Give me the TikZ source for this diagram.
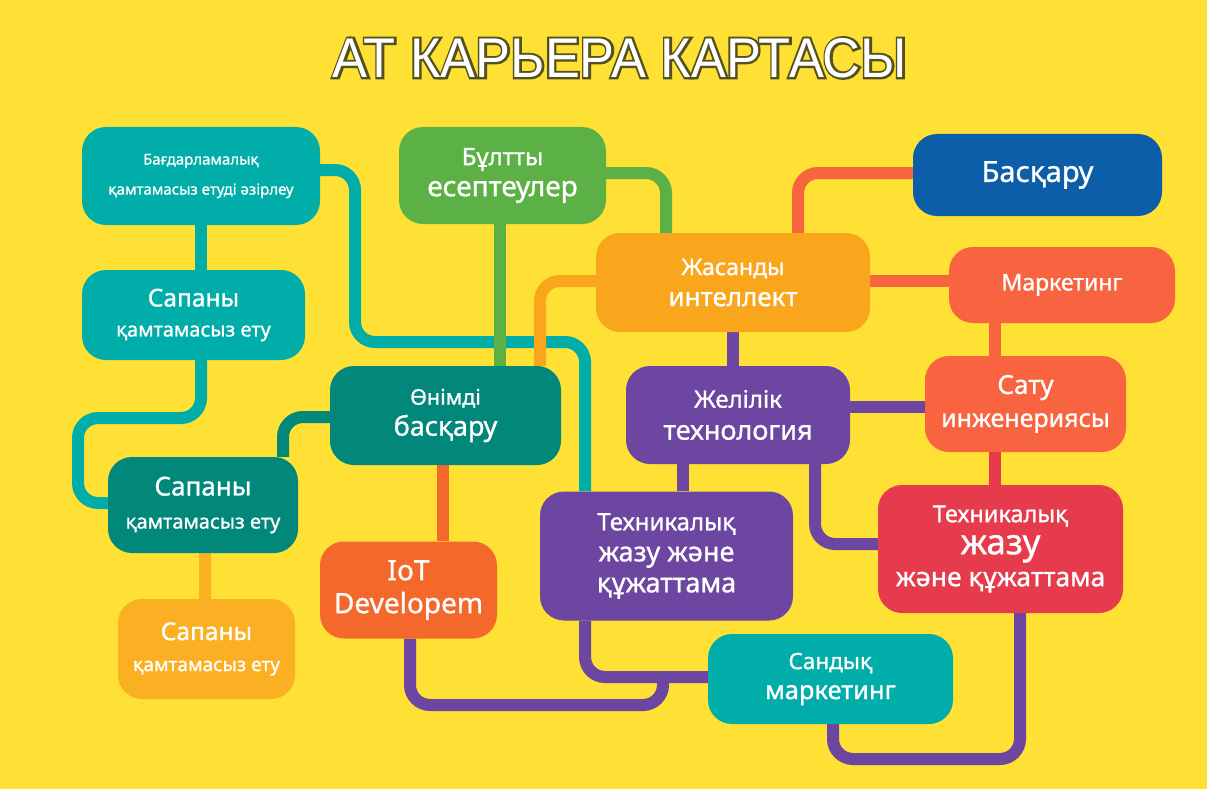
\documentclass[tikz,border=0pt]{standalone}
\usepackage{fontspec}
\setmainfont{Noto Sans}[FakeBold=1.0]
\newfontfamily\titlefont{Liberation Sans}[FakeStretch=0.935]
\newcommand\tsz[1]{\fontsize{#1}{#1}\selectfont}
\definecolor{bg}{HTML}{FEE134}
\definecolor{cteal}{HTML}{00ADA9}
\definecolor{cdteal}{HTML}{02877B}
\definecolor{cgreen}{HTML}{5CB146}
\definecolor{corange}{HTML}{F9A61D}
\definecolor{cyorange}{HTML}{FBB023}
\definecolor{ciot}{HTML}{F4692B}
\definecolor{cblue}{HTML}{0D5EA8}
\definecolor{ccoral}{HTML}{F7643F}
\definecolor{cpurple}{HTML}{6C46A0}
\definecolor{cred}{HTML}{E53B4C}
\definecolor{titleedge}{HTML}{55501F}
\pgfdeclarelayer{background}
\pgfsetlayers{background,main}
\begin{document}
\begin{tikzpicture}[x=1pt,y=-1pt,
  box/.style 2 args={rounded corners=24pt, minimum width=#1pt, minimum height=#2pt,
    inner sep=0pt, text=white, align=center},
  conn/.style={line width=12pt, rounded corners=20pt},
  titletext/.style={inner sep=0pt, font=\titlefont\fontsize{56}{60}\selectfont}]
\begin{pgfonlayer}{background}
\fill[bg] (0,0) rectangle (1207,789);
\end{pgfonlayer}
\useasboundingbox (0,0) rectangle (1207,789);

\node[box={238}{98}, fill=cteal, font=\fontsize{15}{30}\selectfont] (n1) at (201,176)
  {Бағдарламалық\\қамтамасыз етуді әзірлеу};
\node[box={223}{90}, fill=cteal, font=\fontsize{20}{30}\selectfont] (n2) at (193.5,315)
  {{\tsz{24.5}Сапаны}\\{\tsz{20}қамтамасыз ету}};
\node[box={190}{96}, fill=cdteal, font=\fontsize{20}{33}\selectfont] (n3) at (203,505)
  {{\tsz{26}Сапаны}\\{\tsz{20}қамтамасыз ету}};
\node[box={177}{100}, fill=cyorange, font=\fontsize{19}{31}\selectfont] (n4) at (206.5,649)
  {{\tsz{24.5}Сапаны}\\{\tsz{19}қамтамасыз ету}};
\node[box={207}{97}, fill=cgreen, font=\fontsize{28}{31}\selectfont] (n5) at (502.5,175.5)
  {{\tsz{24}Бұлтты}\\есептеулер};
\node[box={231}{99}, fill=cdteal, font=\fontsize{27}{31}\selectfont] (n6) at (445.5,415.5)
  {{\tsz{21.5}Өнімді}\\басқару};
\node[box={177}{97}, fill=ciot, font=\fontsize{28}{33}\selectfont\bfseries] (n7) at (408.5,590)
  {{\tsz{28}IoT}\\Developem};
\node[box={274}{99}, fill=corange, font=\fontsize{26}{31}\selectfont] (n8) at (733,282.5)
  {{\tsz{23}Жасанды}\\интеллект};
\node[box={249}{82}, fill=cblue, font=\fontsize{29}{30}\selectfont] (n9) at (1037.5,175)
  {Басқару};
\node[box={226}{76}, fill=ccoral, font=\fontsize{23}{30}\selectfont] (n10) at (1062,285)
  {Маркетинг};
\node[box={201}{96}, fill=ccoral, font=\fontsize{25}{33}\selectfont] (n11) at (1025.5,404)
  {{\tsz{26}Сату}\\инженериясы};
\node[box={224}{98}, fill=cpurple, font=\fontsize{27}{32}\selectfont] (n12) at (738,415)
  {{\tsz{24}Желілік}\\технология};
\node[box={253}{129}, fill=cpurple, font=\fontsize{27}{31}\selectfont] (n13) at (666.5,556)
  {{\tsz{24}Техникалық}\\жазу және\\құжаттама};
\node[box={245}{128}, fill=cred, font=\fontsize{26.5}{32}\selectfont] (n14) at (1000.5,549)
  {{\tsz{23.5}Техникалық}\\{\tsz{35}жазу}\\және құжаттама};
\node[box={245}{90}, fill=cteal, font=\fontsize{25.5}{30}\selectfont] (n15) at (830.5,679)
  {{\tsz{22.5}Сандық}\\маркетинг};

% title: dark stroked outline under white text
\node[titletext, text=titleedge] (titleedge) at (620,58)
  {\special{pdf:literal direct 1 Tr 4.2 w 0.333 0.314 0.122 RG}АТ КАРЬЕРА КАРТАСЫ\special{pdf:literal direct 0 Tr}};
\node[titletext, text=white] (title) at (620,58) {АТ КАРЬЕРА КАРТАСЫ};

\begin{pgfonlayer}{background}
\draw[conn, cteal] (n1.east |- 0,170) -- (355,170) -- (355,342) -- (585,342) -- (n13.north -| 585,0);
\draw[conn, cteal] (n1.south -| 201,0) -- (n2.north -| 201,0);
\draw[conn, cteal] (n2.south -| 201,0) -- (201,418) -- (78,418) -- (78,503) -- (n3.west |- 0,503);
\draw[conn, cdteal] (n6.west |- 0,417) -- (283,417) -- (n3.north -| 283,0);
\draw[conn, cyorange] (n3.south -| 205,0) -- (n4.north -| 205,0);
\draw[conn, cgreen] (n5.south -| 500,0) -- (n6.north -| 500,0);
\draw[conn, cgreen] (n5.east |- 0,173) -- (666,173) -- (n8.north -| 666,0);
\draw[conn, corange] (n8.west |- 0,281) -- (540,281) -- (n6.north -| 540,0);
\draw[conn, cpurple] (n8.south -| 733,0) -- (n12.north -| 733,0);
\draw[conn, ccoral] (n8.north -| 798,0) -- (798,173) -- (n9.west |- 0,173);
\draw[conn, ccoral] (n8.east |- 0,281) -- (n10.west |- 0,281);
\draw[conn, ccoral] (n10.south -| 995,0) -- (n11.north -| 995,0);
\draw[conn, cpurple] (n12.east |- 0,407) -- (n11.west |- 0,407);
\draw[conn, cred] (n11.south -| 995,0) -- (n14.north -| 995,0);
\draw[conn, cpurple] (n12.south -| 683,0) -- (n13.north -| 683,0);
\draw[conn, cpurple] (n12.south -| 815,0) -- (815,544) -- (n14.west |- 0,544);
\draw[conn, cpurple] (n13.south -| 585,0) -- (585,677) -- (n15.west |- 0,677);
\draw[conn, cpurple] (n7.south -| 410,0) -- (410,705) -- (663,705) -- (663,679);
\draw[conn, cpurple] (n15.south -| 833,0) -- (833,759) -- (1020,759) -- (n14.south -| 1020,0);
\draw[conn, ciot] (n6.south -| 443,0) -- (n7.north -| 443,0);
\end{pgfonlayer}
\end{tikzpicture}
\end{document}
